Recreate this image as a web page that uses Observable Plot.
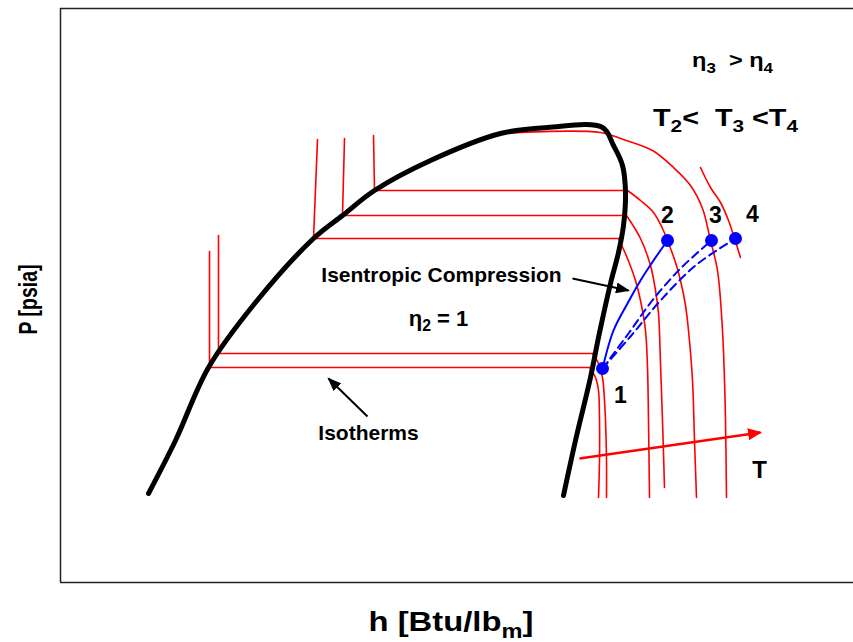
<!DOCTYPE html>
<html>
<head>
<meta charset="utf-8">
<script src="https://cdn.jsdelivr.net/npm/d3@7"></script>
<script src="https://cdn.jsdelivr.net/npm/@observablehq/plot@0.6"></script>
<style>
  body { margin: 0; background: #fff; }
  #chart svg { display: block; }
</style>
</head>
<body>
<div id="chart"></div>
<script>
// P–h diagram of a vapour-compression cycle (schematic, arbitrary units)

// Saturation dome: liquid line up to the critical region, then vapour line down
const domeH = [88, 115, 148, 195, 253, 282, 314, 370, 440, 487, 542, 553, 562, 565, 563, 558, 550, 538, 530, 515, 503];
const domeP = [89, 142, 215, 280, 344, 367, 392, 422, 449, 455, 455, 437, 417, 390, 357, 330, 299, 245, 205, 142, 87];

// Isotherms: liquid leg + two-phase plateau (straight segments)
const isoNames = ["A", "B", "C", "D", "E"];
const plateauH = [
  [149, 149, 529],
  [158, 158, 532],
  [257, 253, 558],
  [284, 282, 566],
  [313, 314, 567]
];
const plateauP = [
  [331, 215, 215],
  [347, 229, 229],
  [443, 344, 344],
  [444, 367, 367],
  [447, 392, 392]
];

// Isotherms: superheated-vapour legs (smooth); F is supercritical, G passes through state 4
const vaporNames = ["A", "B", "C", "D", "E", "F", "G"];
const vaporH = [
  [529, 535, 538, 539, 539, 538],
  [532, 538, 542, 544, 545, 546, 546],
  [558, 567, 575, 580, 585, 587, 588, 589],
  [566, 580, 590, 595, 598, 600, 602, 604],
  [567, 580, 593, 602, 607, 615, 620, 625, 628, 632, 634, 636],
  [438, 540, 563, 592, 613, 630, 642, 650, 657, 662, 664, 665, 666],
  [640, 650, 660, 668, 674, 680]
];
const vaporP = [
  [215, 205, 192, 162, 122, 85],
  [229, 219, 205, 182, 162, 122, 85],
  [344, 324, 302, 282, 252, 215, 162, 85],
  [367, 344, 317, 292, 269, 219, 162, 95],
  [392, 382, 370, 354, 342, 320, 302, 277, 252, 202, 142, 85],
  [449, 450, 443, 432, 415, 397, 374, 342, 312, 252, 202, 162, 85],
  [415, 395, 380, 362, 344, 325]
];

// Compression processes from state 1
const isentropicH = [542, 553, 567, 580, 593, 607];
const isentropicP = [214, 252, 279, 302, 322, 342];
const realNames = ["1-3", "1-4"];
const realH = [
  [542, 568, 591, 620, 651],
  [542, 570, 600, 635, 675]
];
const realP = [
  [214, 249, 281, 314, 342],
  [214, 246, 282, 317, 344]
];

// State points
const stateNames = ["1", "2", "3", "4"];
const stateH = [542, 607, 651, 675];
const stateP = [214, 342, 342, 344];
const stateLabelH = [560, 607, 655, 692];
const stateLabelP = [187, 367, 367, 368];

// Annotation arrows
const arrowNames = ["compression", "isotherms", "T"];
const arrowH1 = [512, 307, 519];
const arrowP1 = [304, 166, 124];
const arrowH2 = [568, 268, 700];
const arrowP2 = [292, 204, 150];

// Annotation texts (subscripts written as _x)
const noteText = ["Isentropic Compression", "η_2 = 1", "Isotherms", "T", "η_3  > η_4", "T_2<  T_3 <T_4"];
const noteH = [381, 378, 308, 699, 672, 665];
const noteP = [307, 264, 149, 112, 522, 464];

// Axis titles
const yTitle = "P [psia]";
const xTitle = "h [Btu/lb_m]";

// Tables for the marks
const dome = domeH.map((h, i) => ({h, P: domeP[i]}));
const plateaus = isoNames.flatMap((n, k) => plateauH[k].map((h, i) => ({iso: n, h, P: plateauP[k][i]})));
const vapors = vaporNames.flatMap((n, k) => vaporH[k].map((h, i) => ({iso: n, h, P: vaporP[k][i]})));
const isentropic = isentropicH.map((h, i) => ({h, P: isentropicP[i]}));
const real = realNames.flatMap((n, k) => realH[k].map((h, i) => ({path: n, h, P: realP[k][i]})));
const states = stateNames.map((n, i) => ({n, h: stateH[i], P: stateP[i], lh: stateLabelH[i], lP: stateLabelP[i]}));
const arrows = arrowNames.map((n, i) => ({n, h1: arrowH1[i], P1: arrowP1[i], h2: arrowH2[i], P2: arrowP2[i]}));
const notes = noteText.map((t, i) => ({t, h: noteH[i], P: noteP[i]}));

// Typography for the annotations: font size and, where given, the drawn width
const noteStyle = {
  "Isentropic Compression": {size: 21},
  "η_2 = 1": {size: 22},
  "Isotherms": {size: 21},
  "T": {size: 24},
  "η_3  > η_4": {size: 21, width: 81},
  "T_2<  T_3 <T_4": {size: 24, width: 145},
  [yTitle]: {size: 26, width: 70},
  [xTitle]: {size: 27, width: 165}
};

const font = "Arial, 'Liberation Sans', sans-serif";

const chart = Plot.plot({
  width: 853,
  height: 642,
  marginLeft: 60,
  marginRight: 0,
  marginTop: 8,
  marginBottom: 60,
  x: {domain: [0, 793], axis: null},
  y: {domain: [0, 574], axis: null},
  style: {fontFamily: font, fontWeight: "bold", background: "#fff", color: "#000"},
  marks: [
    // open frame: left, top and bottom sides
    Plot.ruleX([0], {stroke: "#222", strokeWidth: 1.5}),
    Plot.ruleY([0, 574], {stroke: "#222", strokeWidth: 1.5}),
    Plot.line(plateaus, {x: "h", y: "P", z: "iso", stroke: "#ff0000", strokeWidth: 1.6}),
    Plot.line(vapors, {x: "h", y: "P", z: "iso", stroke: "#ff0000", strokeWidth: 1.6, curve: "catmull-rom"}),
    Plot.line(dome, {x: "h", y: "P", stroke: "#000", strokeWidth: 5, curve: "catmull-rom"}),
    Plot.line(isentropic, {x: "h", y: "P", stroke: "#0000ff", strokeWidth: 2, curve: "catmull-rom"}),
    Plot.line(real, {x: "h", y: "P", z: "path", stroke: "#0000ff", strokeWidth: 2, strokeDasharray: "8,5", curve: "catmull-rom"}),
    Plot.dot(states, {x: "h", y: "P", r: 6.5, fill: "#0000ff"}),
    Plot.text(states, {x: "lh", y: "lP", text: "n", fontSize: 23, fill: "#000"}),
    Plot.link(arrows.filter(d => d.n !== "T"), {x1: "h1", y1: "P1", x2: "h2", y2: "P2", stroke: "#000", strokeWidth: 2, className: "arrow-black"}),
    Plot.link(arrows.filter(d => d.n === "T"), {x1: "h1", y1: "P1", x2: "h2", y2: "P2", stroke: "#ff0000", strokeWidth: 2.5, className: "arrow-red"}),
    Plot.text(notes, {x: "h", y: "P", text: "t", fontSize: d => noteStyle[d.t].size, fill: "#000"}),
    Plot.text([yTitle], {text: d => d, frameAnchor: "left", textAnchor: "middle", lineAnchor: "middle", dx: -32, dy: 4, rotate: -90, fontSize: noteStyle[yTitle].size, fill: "#000"}),
    Plot.text([xTitle], {text: d => d, frameAnchor: "bottom", textAnchor: "middle", lineAnchor: "middle", dx: -6, dy: 40, fontSize: noteStyle[xTitle].size, fill: "#000"})
  ]
});

document.getElementById("chart").appendChild(chart);

// Filled arrowheads on the annotation arrows
const svgNS = "http://www.w3.org/2000/svg";
const defs = d3.select(chart).insert("defs", ":first-child");
function addHead(id, color, len, wid) {
  defs.append("marker")
    .attr("id", id)
    .attr("viewBox", `0 ${-wid / 2} ${len} ${wid}`)
    .attr("markerUnits", "userSpaceOnUse")
    .attr("markerWidth", len)
    .attr("markerHeight", wid)
    .attr("refX", len - 1.5)
    .attr("refY", 0)
    .attr("orient", "auto")
    .append("path")
    .attr("d", `M0,${-wid / 2}L${len},0L0,${wid / 2}Z`)
    .attr("fill", color);
}
addHead("head-black", "#000", 14, 11);
addHead("head-red", "#ff0000", 14, 12);
d3.select(chart).selectAll(".arrow-black path").attr("marker-end", "url(#head-black)");
d3.select(chart).selectAll(".arrow-red path").attr("marker-end", "url(#head-red)");

// Subscripts ("_x" becomes a lowered, smaller character) and widened lettering
chart.querySelectorAll("text").forEach(t => {
  const s = t.textContent;
  const style = noteStyle[s];
  if (s.includes("_")) {
    const fs = parseFloat(getComputedStyle(t).fontSize) || 20;
    const shift = fs * 0.26;
    t.textContent = "";
    t.style.whiteSpace = "pre";
    s.split(/_(\w)/).forEach((p, i) => {
      if (p === "") return;
      const ts = document.createElementNS(svgNS, "tspan");
      ts.textContent = p;
      if (i % 2 === 1) {
        ts.setAttribute("font-size", fs * 0.72);
        ts.setAttribute("dy", shift);
      } else if (i > 0) {
        ts.setAttribute("dy", -shift);
      }
      t.appendChild(ts);
    });
  }
  if (style && style.width) {
    const natural = t.getComputedTextLength();
    if (natural > 0) {
      const sx = style.width / natural;
      const tr = t.getAttribute("transform") || "";
      t.setAttribute("transform", `${tr} scale(${sx.toFixed(3)},1)`);
    }
  }
});
</script>
</body>
</html>
